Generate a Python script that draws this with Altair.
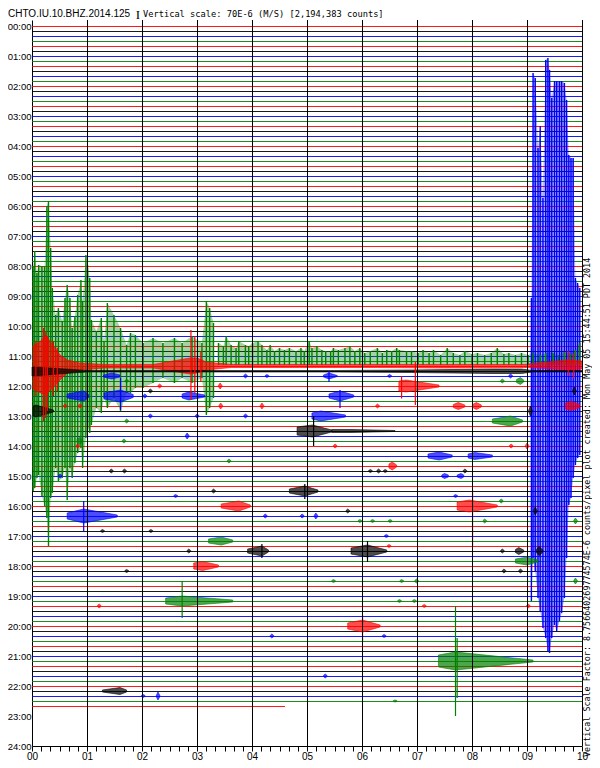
import altair as alt
import pandas as pd

STATION = "CHTO.IU.10.BHZ.2014.125"
SCALE_TEXT = "Vertical scale: 70E-6 (M/S) [2,194,383 counts]"
SIDE_TEXT = ("Vertical Scale Factor: 8.756640269774574E-6 counts/pixel "
             "plot created: Mon May 05 15:44:51 PDT 2014")

TRACE_COLORS = ["#ff0000", "#000000", "#0000ff", "#008000"]
TRACE_STEP = 10          # minutes of day per line
N_TRACES = 137           # 00:00 .. 22:40
LAST_TRACE_END = 4.6     # minute where the last line stops
GRID_MINUTES = list(range(1, 11))
HOUR_TICKS = list(range(0, 1441, 60))
SECOND_TICKS = [round(k / 6, 4) for k in range(61)]

# y values are in minutes of the day (0 = 00:00, 1440 = 24:00)
# big quake on the 11:00 (blue) line: minute, top, bottom
QUAKE_BLUE = [
    (9.08, 544, 1150), (9.11, 94, 1064), (9.15, 104, 1090), (9.20, 244, 1144),
    (9.24, 200, 1170), (9.29, 344, 1204), (9.34, 68, 1224), (9.38, 64, 1250),
    (9.41, 88, 1254), (9.45, 144, 1224), (9.50, 110, 1198), (9.54, 110, 1210),
    (9.59, 110, 1190), (9.63, 110, 1174), (9.68, 114, 1144), (9.72, 148, 1064),
    (9.76, 258, 958), (9.80, 264, 944), (9.84, 264, 904), (9.88, 504, 878),
    (9.92, 514, 864), (9.96, 524, 858)]

# its continuation on the 11:10 (green) line
QUAKE_GREEN = [
    (0.02, 480, 930), (0.05, 450, 924), (0.09, 494, 904), (0.12, 478, 898),
    (0.18, 480, 940), (0.23, 480, 960), (0.27, 360, 984), (0.30, 350, 1040),
    (0.34, 444, 944), (0.37, 524, 934), (0.43, 578, 884), (0.48, 564, 910),
    (0.55, 590, 904), (0.60, 544, 884), (0.64, 518, 948), (0.69, 544, 884),
    (0.73, 604, 904), (0.78, 580, 874), (0.83, 538, 854), (0.89, 508, 844),
    (0.92, 550, 884), (0.98, 458, 824), (1.01, 478, 804), (1.05, 504, 814),
    (1.08, 588, 798), (1.17, 610, 764), (1.26, 584, 774), (1.31, 630, 744),
    (1.37, 554, 764), (1.49, 578, 744), (1.61, 604, 770), (1.72, 638, 734),
    (1.79, 614, 734), (1.88, 618, 724), (2.02, 634, 724), (2.20, 624, 714),
    (2.38, 634, 704), (2.59, 624, 714), (2.73, 634, 704), (2.91, 620, 714),
    (3.09, 634, 704), (3.17, 550, 778), (3.23, 564, 764), (3.30, 594, 744)]

# oscillation peaks of the 11:10 line after the first minutes: minute, top
GREEN_COMB = [
    (3.39, 634), (3.48, 640), (3.53, 620), (3.62, 638), (3.71, 644), (3.76, 630),
    (3.88, 638), (3.94, 640), (4.01, 634), (4.11, 630), (4.18, 638), (4.27, 648),
    (4.33, 638), (4.41, 650), (4.50, 644), (4.59, 648), (4.68, 644), (4.80, 650),
    (4.89, 644), (4.95, 650), (5.04, 630), (5.09, 644), (5.18, 640), (5.27, 648),
    (5.34, 650), (5.43, 650), (5.48, 644), (5.57, 648), (5.69, 644), (5.78, 640),
    (5.87, 650), (5.96, 644), (6.05, 654), (6.15, 650), (6.28, 644), (6.37, 654),
    (6.45, 648), (6.54, 650), (6.63, 644), (6.68, 648), (6.81, 650), (6.90, 650),
    (7.02, 654), (7.11, 648), (7.22, 654), (7.30, 648), (7.43, 658), (7.55, 644),
    (7.66, 654), (7.78, 658), (7.87, 650), (8.00, 656), (8.10, 654), (8.23, 658),
    (8.35, 654), (8.46, 644), (8.58, 656), (8.67, 654), (8.79, 658), (8.90, 654),
    (9.02, 658), (9.11, 654), (9.24, 658), (9.34, 654), (9.47, 654), (9.57, 658),
    (9.68, 652), (9.79, 656), (9.88, 648), (9.96, 634)]
GREEN_COMB_FLOOR = 678

# 11:20 (red) noisy line: minute, top, bottom
RED_BAND = [
    (0.02, 640, 726), (0.16, 630, 734), (0.25, 618, 738), (0.39, 640, 722),
    (0.51, 658, 708), (0.64, 668, 694), (0.87, 674, 688), (1.31, 677, 684),
    (2.20, 677, 684), (2.87, 664, 696), (3.00, 664, 694), (3.17, 672, 688),
    (3.62, 677, 683), (4.86, 677, 683), (6.28, 677, 683), (7.52, 677, 684),
    (8.94, 677, 683), (9.20, 674, 684), (9.73, 668, 688), (10.0, 670, 686)]
RED_SPIKES = [
    (0.07, 630, 740), (0.21, 604, 790), (0.25, 610, 784), (0.28, 620, 770),
    (0.39, 630, 740), (0.46, 644, 730), (2.89, 608, 748), (2.96, 620, 734),
    (3.07, 650, 712), (9.75, 650, 700), (9.85, 655, 705)]

# 11:30 (black) noisy line
BLACK_BAND = [
    (0.0, 682, 700), (0.6, 686, 695), (1.0, 689, 692), (5.5, 689, 692),
    (6.9, 688, 693), (8.4, 686, 695), (8.9, 686, 695), (9.1, 689, 692),
    (10.0, 689, 692)]

# local events: line, onset, peak, end (minutes), amplitude at onset, peak, end
BURSTS = [
    (770, 0.02, 0.07, 0.39, 10, 12, 2), (740, 0.64, 0.94, 1.03, 4, 10, 3),
    (740, 1.31, 1.61, 1.84, 6, 12, 3), (740, 2.73, 2.85, 3.14, 4, 8, 2),
    (740, 5.40, 5.60, 5.85, 4, 10, 2), (700, 5.30, 5.40, 5.55, 2, 6, 1),
    (700, 1.30, 1.45, 1.60, 2, 6, 2), (720, 6.67, 6.80, 7.40, 10, 12, 2),
    (780, 5.09, 5.25, 5.70, 6, 10, 2), (810, 4.82, 5.10, 5.45, 8, 12, 2),
    (810, 5.45, 5.80, 6.60, 3, 3, 1), (790, 8.37, 8.70, 8.92, 4, 10, 2),
    (860, 7.20, 7.40, 7.64, 4, 8, 2), (860, 7.93, 8.05, 8.37, 4, 7, 2),
    (900, 7.45, 7.50, 7.57, 2, 5, 2), (900, 7.73, 7.80, 7.85, 2, 5, 2),
    (960, 7.73, 7.95, 8.46, 8, 12, 2), (960, 3.44, 3.76, 3.97, 4, 10, 2),
    (930, 4.68, 4.96, 5.20, 4, 10, 2), (980, 0.64, 0.94, 1.55, 6, 14, 2),
    (1030, 3.21, 3.44, 3.65, 4, 8, 2), (1050, 3.92, 4.18, 4.30, 4, 10, 2),
    (1050, 5.80, 6.10, 6.45, 6, 12, 2), (1080, 2.94, 3.10, 3.39, 6, 9, 2),
    (1200, 5.74, 6.01, 6.33, 6, 12, 2), (1150, 2.43, 2.73, 3.65, 6, 10, 2),
    (1270, 7.39, 7.70, 9.11, 12, 18, 2), (1330, 1.28, 1.60, 1.72, 2, 7, 2),
    (1070, 8.79, 9.00, 9.20, 4, 8, 2), (880, 6.49, 6.55, 6.63, 4, 8, 2),
    (830, 0.82, 0.87, 0.92, 4, 7, 2), (760, 7.66, 7.75, 7.87, 3, 7, 2),
    (760, 8.01, 8.08, 8.17, 3, 7, 2), (760, 9.70, 9.80, 9.95, 6, 9, 4),
    (710, 8.81, 8.88, 8.94, 3, 7, 2), (1050, 8.79, 8.85, 8.94, 3, 7, 2),
    (1050, 9.17, 9.22, 9.29, 3, 9, 2)]

# tall single swings inside events: line, minute, top, bottom
EVENT_SPIKES = [
    (740, 1.61, 704, 768), (740, 5.60, 728, 764), (720, 6.97, 672, 758),
    (720, 6.72, 700, 745), (810, 5.12, 780, 840), (960, 8.01, 928, 1040),
    (1150, 2.73, 1110, 1184), (1270, 7.70, 1160, 1380), (1270, 7.73, 1224, 1344),
    (1200, 6.01, 1178, 1230), (980, 0.94, 950, 1010), (1050, 6.10, 1030, 1072),
    (1050, 4.18, 1036, 1064), (700, 5.40, 690, 712), (930, 4.96, 916, 946)]

# tiny blips: line, minute, amplitude
BLIPS = [
    (720, 3.42, 6), (720, 2.32, 4), (760, 0.60, 4), (760, 0.87, 4), (760, 3.43, 6),
    (760, 4.18, 6), (760, 6.28, 4), (730, 2.15, 4), (730, 9.86, 8), (770, 9.06, 10),
    (780, 2.15, 4), (780, 3.00, 4), (780, 3.88, 4), (790, 1.72, 4), (820, 2.82, 6),
    (830, 1.67, 4), (840, 0.83, 4), (840, 5.51, 4), (840, 8.71, 4), (840, 9.00, 6),
    (870, 3.58, 4), (890, 1.44, 4), (890, 1.68, 4), (890, 6.15, 3), (890, 6.30, 4),
    (890, 6.42, 3), (890, 7.87, 4), (900, 0.51, 4), (930, 3.30, 4), (940, 2.61, 3),
    (940, 7.70, 3), (950, 8.53, 4), (970, 5.74, 4), (970, 9.15, 8), (980, 4.24, 4),
    (980, 4.91, 4), (980, 5.16, 6), (990, 5.96, 3), (990, 6.19, 3), (990, 6.51, 3),
    (990, 8.23, 4), (990, 9.88, 6), (1010, 1.28, 3), (1010, 2.16, 3), (1020, 6.44, 3),
    (1040, 6.49, 3), (1050, 2.85, 4), (1050, 8.55, 4), (1090, 1.72, 3), (1090, 8.58, 4),
    (1090, 8.88, 4), (1110, 5.48, 3), (1110, 6.72, 3), (1110, 6.99, 4), (1110, 9.88, 6),
    (1150, 6.68, 3), (1150, 6.95, 3), (1160, 7.13, 3), (1160, 9.02, 4), (1160, 1.22, 4),
    (1220, 4.36, 4), (1220, 6.40, 3), (1300, 5.33, 4), (1340, 2.02, 3), (1340, 2.29, 8),
    (1350, 6.60, 2), (700, 3.88, 4), (700, 4.27, 3), (700, 8.70, 4), (700, 6.50, 3),
    (710, 8.55, 4), (710, 1.72, 3), (740, 2.05, 4)]

QUAKE_LINE = 660
QUAKE_GREEN_LINE = 670

# ---------- layout (pixels) ----------
PLOT_W, PLOT_H = 550, 726
PAD = {"left": 24, "top": 12, "right": 10, "bottom": 14}


def line_color(t):
    return TRACE_COLORS[(t // TRACE_STEP) % 4]


# ---------- tables ----------
traces = pd.DataFrame([
    {"t": i * TRACE_STEP, "x0": 0.0,
     "x1": LAST_TRACE_END if i == N_TRACES - 1 else 10.0,
     "c": TRACE_COLORS[i % 4]} for i in range(N_TRACES)])
grid = pd.DataFrame({"m": GRID_MINUTES})

fill_rows = []
for m, top, bot in QUAKE_BLUE:
    fill_rows.append({"g": "qb", "m": m, "lo": top, "hi": bot, "c": line_color(QUAKE_LINE)})
for m, top, bot in QUAKE_GREEN:
    fill_rows.append({"g": "qg", "m": m, "lo": top, "hi": bot, "c": line_color(QUAKE_GREEN_LINE)})
for m, top in GREEN_COMB:
    fill_rows.append({"g": "gc", "m": m, "lo": top, "hi": GREEN_COMB_FLOOR, "c": line_color(QUAKE_GREEN_LINE)})
fills = pd.DataFrame(fill_rows)

rule1_rows = []
for m, top, bot in QUAKE_BLUE:
    rule1_rows.append({"m": m, "lo": top, "hi": bot, "c": line_color(QUAKE_LINE)})
for m, top, bot in QUAKE_GREEN:
    rule1_rows.append({"m": m, "lo": top, "hi": bot, "c": line_color(QUAKE_GREEN_LINE)})
for m, top in GREEN_COMB:
    rule1_rows.append({"m": m, "lo": top, "hi": GREEN_COMB_FLOOR, "c": line_color(QUAKE_GREEN_LINE)})
rules1 = pd.DataFrame(rule1_rows)

area_rows = []
for m, top, bot in RED_BAND:
    area_rows.append({"g": "rb", "m": m, "lo": top, "hi": bot, "c": line_color(680)})
for m, top, bot in BLACK_BAND:
    area_rows.append({"g": "kb", "m": m, "lo": top, "hi": bot, "c": line_color(690)})
for k, (t, m0, m1, m2, a0, a1, a2) in enumerate(BURSTS):
    for m, a in ((m0, a0), (m1, a1), (m2, a2)):
        area_rows.append({"g": f"b{k}", "m": m, "lo": t - a, "hi": t + a, "c": line_color(t)})
for k, (t, m, a) in enumerate(BLIPS):
    for dm, aa in ((-0.03, 1), (0.0, a), (0.035, 1)):
        area_rows.append({"g": f"p{k}", "m": m + dm, "lo": t - aa, "hi": t + aa, "c": line_color(t)})
areas = pd.DataFrame(area_rows)

rule2_rows = []
for m, top, bot in RED_SPIKES:
    rule2_rows.append({"m": m, "lo": top, "hi": bot, "c": line_color(680)})
for t, m, top, bot in EVENT_SPIKES:
    rule2_rows.append({"m": m, "lo": top, "hi": bot, "c": line_color(t)})
rules2 = pd.DataFrame(rule2_rows)

# ---------- scales / axes ----------
XS = alt.Scale(domain=[0, 10], nice=False, zero=False)
YS = alt.Scale(domain=[-12, 1440], reverse=True, nice=False, zero=False)
X_AXIS = alt.Axis(
    values=SECOND_TICKS, title=None, grid=False, tickSize=5, tickColor="black",
    domainColor="black", labelColor="black", labelFont="Liberation Sans",
    labelFontSize=10, labelPadding=0, labelOverlap=False, labelFlush=False,
    labelBound=False,
    labelExpr="abs(datum.value - round(datum.value)) < 0.01 ? "
              "(round(datum.value) < 10 ? '0' : '') + round(datum.value) : ''")
Y_AXIS = alt.Axis(
    values=HOUR_TICKS, title=None, grid=False, ticks=False, domainColor="black",
    labelColor="black", labelFont="Liberation Sans", labelFontSize=9.5,
    labelPadding=1, labelOverlap=False, labelFlush=False, labelBound=False,
    labelExpr="(datum.value < 600 ? '0' : '') + floor(datum.value / 60) + ':00'")


def X(f):
    return alt.X(f"{f}:Q", scale=XS, axis=X_AXIS)


def Y(f):
    return alt.Y(f"{f}:Q", scale=YS, axis=Y_AXIS)


COLOR = alt.Color("c:N", scale=None)

base_lines = alt.Chart(traces).mark_rule(strokeWidth=1, yOffset=0.5, opacity=0.9).encode(
    x=X("x0"), x2="x1:Q", y=Y("t"), color=COLOR)

grid_lines = alt.Chart(grid).mark_rule(color="black", strokeWidth=1, xOffset=0.5).encode(
    x=X("m"), y=alt.value(0), y2=alt.value(PLOT_H))

light = alt.Chart(fills).mark_area(opacity=0.35).encode(
    x=X("m"), y=Y("lo"), y2="hi:Q", detail="g:N", color=COLOR)

swings1 = alt.Chart(rules1).mark_rule(strokeWidth=1.4).encode(
    x=X("m"), y=Y("lo"), y2="hi:Q", color=COLOR)

bursts = alt.Chart(areas).mark_area(strokeWidth=0.6, fillOpacity=0.7).encode(
    x=X("m"), y=Y("lo"), y2="hi:Q", detail="g:N", color=COLOR,
    stroke=alt.Stroke("c:N", scale=None))

swings2 = alt.Chart(rules2).mark_rule(strokeWidth=1.2).encode(
    x=X("m"), y=Y("lo"), y2="hi:Q", color=COLOR)

title_txt = alt.Chart(pd.DataFrame({"s": [STATION]})).mark_text(
    align="left", baseline="middle", font="Liberation Sans", fontSize=10, color="black"
).encode(x=alt.value(-24), y=alt.value(-6), text="s:N")

bar_txt = alt.Chart(pd.DataFrame({"s": ["I"]})).mark_text(
    align="center", baseline="middle", font="Liberation Serif", fontSize=13, color="black"
).encode(x=alt.value(106), y=alt.value(-5), text="s:N")

scale_txt = alt.Chart(pd.DataFrame({"s": [SCALE_TEXT]})).mark_text(
    align="left", baseline="middle", font="DejaVu Sans Mono", fontSize=8.7, color="black"
).encode(x=alt.value(111), y=alt.value(-6), text="s:N")

side_txt = alt.Chart(pd.DataFrame({"s": [SIDE_TEXT]})).mark_text(
    align="left", baseline="middle", font="DejaVu Sans Mono", fontSize=8.4,
    color="black", angle=270
).encode(x=alt.value(PLOT_W + 5), y=alt.value(PLOT_H + 11), text="s:N")

chart = alt.layer(
    base_lines, light, swings1, bursts, swings2, grid_lines,
    title_txt, bar_txt, scale_txt, side_txt
).properties(
    width=PLOT_W, height=PLOT_H,
    autosize=alt.AutoSizeParams(type="none"),
    padding=PAD,
).configure_view(stroke=None)

chart.save("out.html", embed_options={"renderer": "svg", "actions": False})
